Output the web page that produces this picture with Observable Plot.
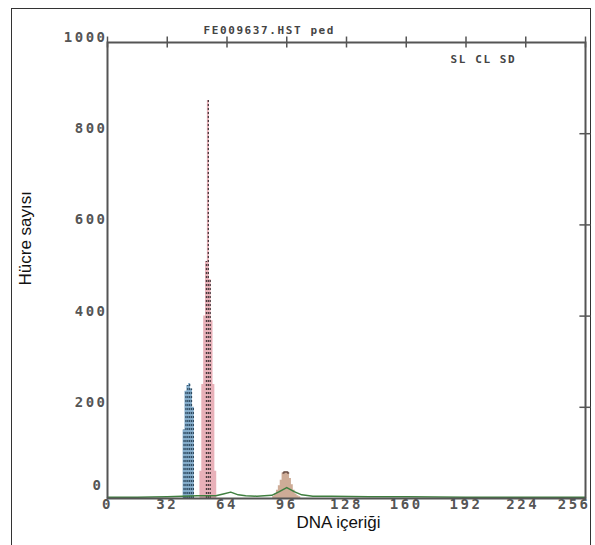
<!DOCTYPE html>
<html>
<head>
<meta charset="utf-8">
<script src="https://cdn.jsdelivr.net/npm/d3@7"></script>
<script src="https://cdn.jsdelivr.net/npm/@observablehq/plot@0.6"></script>
<style>
  html, body { margin: 0; padding: 0; background: #fff; }
  #wrap { position: relative; width: 595px; height: 545px; overflow: hidden; }
  #border { position: absolute; left: 11px; top: 8px; width: 580px; height: 560px; border: 1.5px solid #333; box-sizing: border-box; }
  #chart { position: absolute; left: 0; top: 0; }
</style>
</head>
<body>
<div id="wrap"><div id="border"></div><div id="chart"></div></div>
<script>
// ---- data ----
const xTicks = [0, 32, 64, 96, 128, 160, 192, 224, 256];
const yTicks = [0, 200, 400, 600, 800, 1000];

// blue population (G1 peak A)
const blueX = [40, 41, 42, 43, 44, 45, 46, 47];
const blueY = [0, 150, 235, 248, 252, 240, 200, 0];

// red population (G1 peak B)
const redX = [49, 50, 51, 52, 53, 54, 55, 56, 57, 58, 59];
const redY = [0, 60, 250, 400, 520, 873, 480, 390, 250, 60, 0];

// G2 peak
const g2X = [88, 89, 90, 91, 92, 93, 94, 95, 96, 97, 98, 99, 100, 101, 102, 103, 104];
const g2Y = [0, 5, 10, 18, 28, 40, 56, 58, 58, 56, 44, 30, 18, 10, 6, 4, 0];

// green fit / debris baseline
const greenX = [0, 16, 32, 40, 48, 58, 62, 66, 70, 74, 80, 88, 92, 96, 100, 104, 110, 120, 140, 160, 192, 224, 256];
const greenY = [3, 3, 4, 5, 6, 6, 10, 14, 8, 6, 5, 7, 15, 24, 15, 8, 5, 5, 4, 4, 3, 3, 3];

const title = "FE009637.HST ped";
const tag = "SL CL SD";
const xLabel = "DNA içeriği";
const yLabel = "Hücre sayısı";

const blue = blueX.map((x, i) => ({x, y: blueY[i]}));
const red = redX.map((x, i) => ({x, y: redY[i]}));
const g2 = g2X.map((x, i) => ({x, y: g2Y[i]}));
const green = greenX.map((x, i) => ({x, y: greenY[i]}));

const axisColor = "#555";
const mono = "DejaVu Sans Mono";

const plot = Plot.plot({
  width: 595,
  height: 545,
  marginLeft: 107,
  marginTop: 42,
  marginRight: 10,
  marginBottom: 47,
  style: {background: "transparent", fontFamily: mono},
  x: {domain: [0, 256], label: null},
  y: {domain: [0, 1000], label: null},
  marks: [
    Plot.areaY(blue, {x: "x", y: "y", curve: "step", fill: "#6f9dc1", fillOpacity: 0.85}),
    Plot.ruleX(blue.filter(d => d.y > 0), {x: "x", y1: 0, y2: "y", stroke: "#2f4a60", strokeWidth: 1.2, strokeDasharray: "2,2"}),
    Plot.areaY(red, {x: "x", y: "y", curve: "step", fill: "#e6a8b1", fillOpacity: 0.9}),
    Plot.ruleX(red.filter(d => d.y > 450), {x: "x", y1: 0, y2: "y", stroke: "#4a3a3e", strokeWidth: 1.3, strokeDasharray: "2,2"}),
    Plot.areaY(g2, {x: "x", y: "y", curve: "step", fill: "#c9a38c", fillOpacity: 0.9}),
    Plot.lineY(g2.filter(d => d.y >= 50), {x: "x", y: "y", curve: "step", stroke: "#6a5048", strokeWidth: 1.5}),
    Plot.lineY(green, {x: "x", y: "y", stroke: "#3f7f3f", strokeWidth: 1.5}),
    Plot.frame({stroke: axisColor, strokeWidth: 2}),
    Plot.ruleX(xTicks, {x: d => d, y1: 988, y2: 1012, stroke: axisColor, strokeWidth: 1.5}),
    Plot.ruleY(yTicks.slice(1, -1), {y: d => d, x1: 253, x2: 259, stroke: axisColor, strokeWidth: 1.5}),
    Plot.axisX({ticks: xTicks, tickFormat: d => String(d), tickSize: 0, tickPadding: 1, fontSize: 14, fontWeight: "bold", fill: axisColor, label: null}),
    Plot.axisY({ticks: yTicks, tickFormat: d => String(d), tickSize: 0, tickPadding: 0, fontSize: 14, fontWeight: "bold", fill: axisColor, dy: -5, label: null}),
    Plot.text([title], {frameAnchor: "top-left", text: d => d, textAnchor: "start", lineAnchor: "bottom", dx: 96, dy: -9, fontSize: 11, fontWeight: "bold", fill: "#444", fontFamily: mono}),
    Plot.text([tag], {frameAnchor: "top-left", text: d => d, textAnchor: "start", lineAnchor: "bottom", dx: 343, dy: 20, fontSize: 11, fontWeight: "bold", fill: "#444", fontFamily: mono}),
    Plot.text([xLabel], {frameAnchor: "bottom", text: d => d, lineAnchor: "middle", dx: -8, dy: 24, fontSize: 17, fill: "#111", fontFamily: "Liberation Sans"}),
    Plot.text([yLabel], {frameAnchor: "left", text: d => d, rotate: -90, lineAnchor: "middle", dx: -82, dy: 15, fontSize: 17, fill: "#111", fontFamily: "Liberation Sans"})
  ]
});

document.getElementById("chart").appendChild(plot);

const svg = d3.select(plot);
svg.selectAll('[aria-label="x-axis tick label"] text, [aria-label="y-axis tick label"] text').attr("letter-spacing", 2.5);
// keep the last x label inside the picture, as in the reference
const xl = svg.selectAll('[aria-label="x-axis tick label"] text').nodes();
if (xl.length) {
  const last = xl[xl.length - 1];
  last.setAttribute("text-anchor", "end");
  last.setAttribute("dx", "5");
  const prev = xl[xl.length - 2];
  if (prev) prev.setAttribute("dx", "-3");
}
// the y "0" sits a little left of and above the x "0"
const yl = svg.selectAll('[aria-label="y-axis tick label"] text').nodes();
const zero = yl.find(n => n.textContent === "0");
if (zero) { zero.setAttribute("dx", "-4"); zero.setAttribute("dy", "-0.6em"); }
svg.selectAll('[aria-label="text"] text').filter(function() { return this.textContent === title || this.textContent === tag; }).attr("letter-spacing", 1.6);
</script>
</body>
</html>
